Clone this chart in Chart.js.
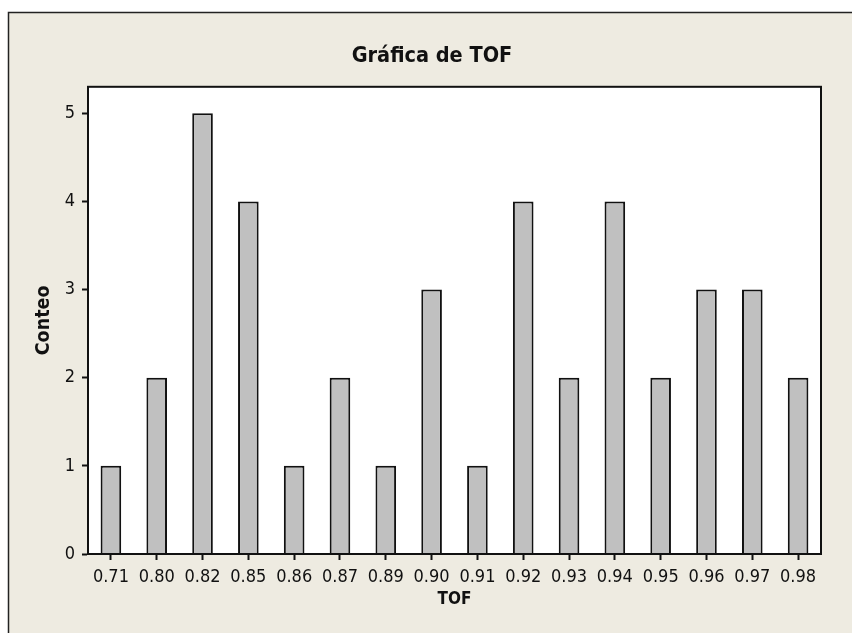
<!DOCTYPE html>
<html>
<head>
<meta charset="utf-8">
<script src="https://cdn.jsdelivr.net/npm/chart.js@4/dist/chart.umd.min.js"></script>
<style>
  html, body { margin: 0; padding: 0; background: #ffffff; }
  #wrap { width: 852px; height: 633px; }
</style>
</head>
<body>
<div id="wrap"><canvas id="chart_tof" width="852" height="633"></canvas></div>
<script>
var categories = ['0.71', '0.80', '0.82', '0.85', '0.86', '0.87', '0.89', '0.90',
                  '0.91', '0.92', '0.93', '0.94', '0.95', '0.96', '0.97', '0.98']
var counts = [1, 2, 5, 4, 1, 2, 1, 3, 1, 4, 2, 4, 2, 3, 3, 2]
var titleText = 'Gráfica de TOF'
var xLabel = 'TOF'
var yLabel = 'Conteo'

var fontFamily = "'DejaVu Sans Condensed', 'DejaVu Sans', sans-serif"
var beige = '#eeebe1'

// background frame + white plot area, border around the plot
var framePlugin = {
    id: 'frame',
    beforeDraw: function(chart) {
        var c = chart.ctx
        var a = chart.chartArea
        c.save()
        c.fillStyle = beige
        c.fillRect(8, 12, chart.width - 8, chart.height - 12)
        c.strokeStyle = '#222'
        c.lineWidth = 1.5
        c.beginPath()
        c.moveTo(8.5, chart.height)
        c.lineTo(8.5, 12.5)
        c.lineTo(chart.width, 12.5)
        c.stroke()
        c.fillStyle = '#ffffff'
        c.fillRect(a.left, a.top, a.right - a.left, a.bottom - a.top)
        c.restore()
    },
    afterDraw: function(chart) {
        var c = chart.ctx
        var a = chart.chartArea
        c.save()
        c.strokeStyle = '#111'
        c.lineWidth = 2
        c.strokeRect(a.left, a.top, a.right - a.left, a.bottom - a.top)
        c.restore()
    }
}

var ctx = document.getElementById('chart_tof')

var chartTof = new Chart(ctx, {
    type: 'bar',
    data: {
        labels: categories,
        datasets: [{
            label: xLabel,
            data: counts,
            backgroundColor: '#c0c0c0',
            borderColor: '#111111',
            borderWidth: 2,
            barPercentage: 0.45,
            categoryPercentage: 1.0
        }]
    },
    plugins: [framePlugin],
    options: {
        responsive: false,
        animation: false,
        devicePixelRatio: 1,
        layout: {
            padding: { top: 44, left: 43, right: 31, bottom: 0 }
        },
        plugins: {
            legend: { display: false },
            tooltip: { enabled: false },
            title: {
                display: true,
                text: titleText,
                color: '#111',
                font: { family: fontFamily, size: 21.5, weight: 'bold' },
                padding: { top: 0, bottom: 17 }
            }
        },
        scales: {
            x: {
                grid: {
                    display: true,
                    drawOnChartArea: false,
                    drawTicks: true,
                    tickLength: 6,
                    tickWidth: 2,
                    tickColor: '#111',
                    offset: false
                },
                border: { display: true, color: '#111', width: 2 },
                ticks: {
                    color: '#111',
                    padding: 7,
                    maxRotation: 0,
                    autoSkip: false,
                    font: { family: fontFamily, size: 18 }
                },
                title: {
                    display: true,
                    text: xLabel,
                    color: '#111',
                    font: { family: fontFamily, size: 17, weight: 'bold' },
                    padding: { top: 0, bottom: 23 }
                },
                afterFit: function(scale) { scale.height = 79 }
            },
            y: {
                min: 0,
                max: 5.3,
                grid: {
                    display: true,
                    drawOnChartArea: false,
                    drawTicks: true,
                    tickLength: 6,
                    tickWidth: 2,
                    tickColor: '#111'
                },
                border: { display: true, color: '#111', width: 2 },
                ticks: {
                    stepSize: 1,
                    includeBounds: false,
                    color: '#111',
                    padding: 7,
                    font: { family: fontFamily, size: 18 }
                },
                title: {
                    display: true,
                    text: yLabel,
                    color: '#111',
                    font: { family: fontFamily, size: 19.5, weight: 'bold' },
                    padding: { top: -11, bottom: 0 }
                },
                afterFit: function(scale) { scale.width = 45 }
            }
        }
    }
});
</script>
</body>
</html>
